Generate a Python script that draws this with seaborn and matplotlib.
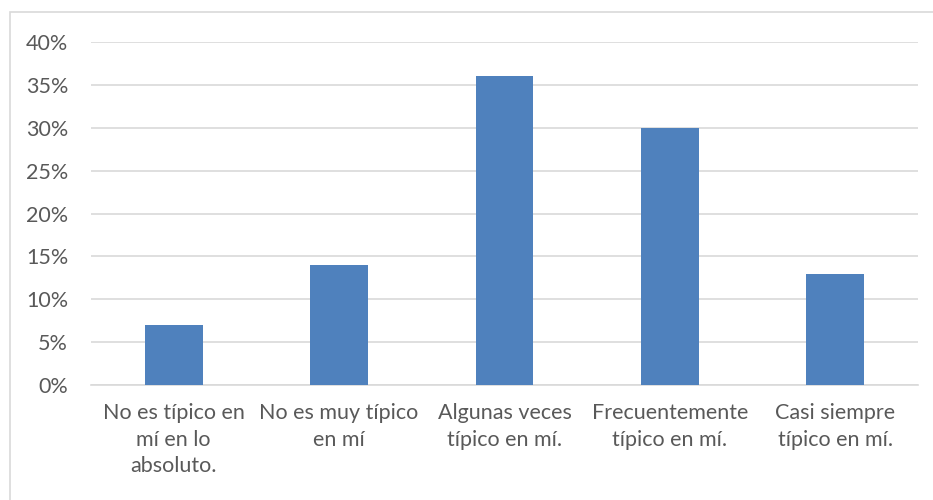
import matplotlib
matplotlib.use("Agg")
import matplotlib.pyplot as plt
from matplotlib.patches import Rectangle
from matplotlib.ticker import FuncFormatter, MultipleLocator
import seaborn as sns
import pandas as pd

categories = [
    "No es típico en\nmí en lo\nabsoluto.",
    "No es muy típico\nen mí",
    "Algunas veces\ntípico en mí.",
    "Frecuentemente\ntípico en mí.",
    "Casi siempre\ntípico en mí.",
]
values = [0.07, 0.14, 0.36, 0.30, 0.13]

df = pd.DataFrame({"categoria": categories, "valor": values})

sns.set_theme(style="white")
plt.rcParams["font.family"] = ["Lato", "DejaVu Sans"]

fig = plt.figure(figsize=(9.33, 5.0), dpi=100)
ax = fig.add_axes([91 / 933, 1 - 385 / 500, (918 - 91) / 933, (385 - 42) / 500])

sns.barplot(data=df, x="categoria", y="valor", color="#4F81BD", saturation=1,
            width=0.35, ax=ax, zorder=3, linewidth=0)

ax.set_ylim(0, 0.40)
ax.set_xlim(-0.5, 4.5)
ax.yaxis.set_major_locator(MultipleLocator(0.05))
ax.yaxis.set_major_formatter(FuncFormatter(lambda v, _: f"{round(v * 100)}%"))
ax.grid(axis="y", color="#D9D9D9", linewidth=1.2, zorder=0)
ax.set_xlabel("")
ax.set_ylabel("")
for s in ["top", "right", "left"]:
    ax.spines[s].set_visible(False)
ax.spines["bottom"].set_color("#D9D9D9")
ax.spines["bottom"].set_linewidth(1.2)
ax.tick_params(axis="both", length=0, labelsize=15.5, colors="#595959")
ax.tick_params(axis="y", pad=16.5)
ax.tick_params(axis="x", pad=13)
for lbl in ax.get_xticklabels():
    lbl.set_linespacing(1.42)

# chart area outline
fig.patches.append(Rectangle((9.5 / 933, -0.02), 1.0, 0.976 + 0.02,
                             transform=fig.transFigure, fill=False,
                             edgecolor="#D9D9D9", linewidth=1.2))

fig.savefig("out.png", dpi=100)
